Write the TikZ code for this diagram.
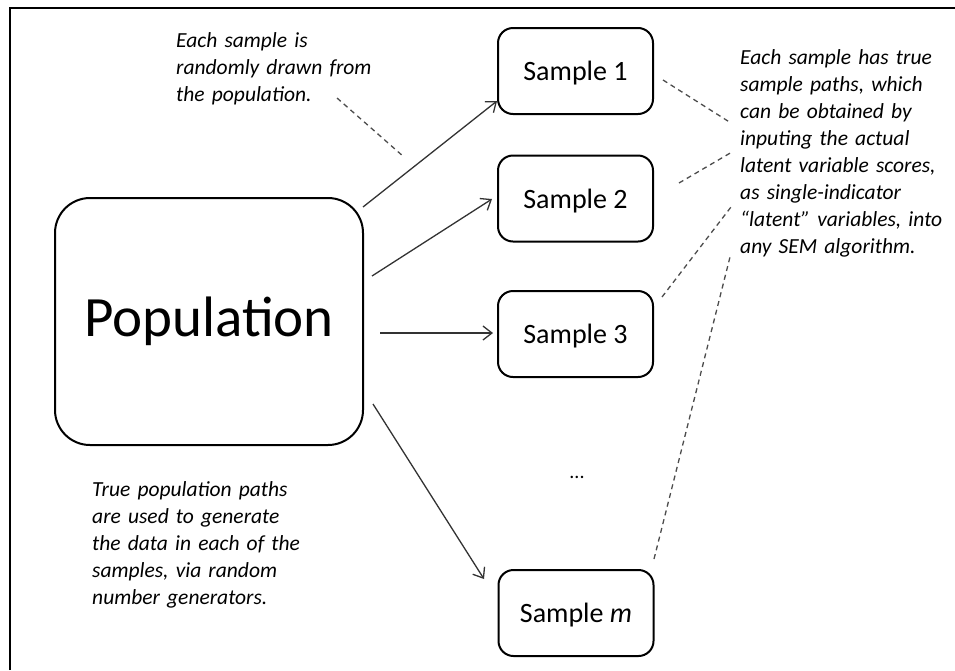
\documentclass[tikz,border=0pt]{standalone}
\usepackage{fontspec}
\setmainfont{Carlito}
\usetikzlibrary{arrows.meta}
\begin{document}
\begin{tikzpicture}[x=1pt,y=-1pt,
  box/.style={draw=black, line width=2pt, inner sep=0pt, text=black},
  samplebox/.style={box, rounded corners=15pt, minimum width=155pt, minimum height=86pt, text depth=0pt, font=\fontsize{28}{34}\selectfont},
  note/.style={font=\fontsize{21.5}{27}\selectfont\itshape, align=left, anchor=base west, inner sep=0pt, text width=260pt},
  arr/.style={line width=1.3pt, draw=black!80, -{Straight Barb[length=9pt,width=14pt,line width=1.3pt]}},
  dashline/.style={line width=1.3pt, draw=black!70, dash pattern=on 5pt off 4pt},
]
\useasboundingbox (0,0) rectangle (955,670);
\coordinate (fbl) at (10,670);
\coordinate (ftl) at (10,8);
\coordinate (ftr) at (955,8);
\draw[line width=2pt] (fbl) -- (ftl) -- (ftr);

\node[box, rounded corners=35pt, minimum width=308pt, minimum height=247pt, font=\fontsize{57}{66}\selectfont] (pop) at (209,321.5) {Population};

\node[samplebox] (s1) at (575.5,71) {Sample 1};
\node[samplebox] (s2) at (575.5,198.5) {Sample 2};
\node[samplebox] (s3) at (575.5,334) {Sample 3};
\node[samplebox] (sm) at (576,613) {Sample \textit{m}};
\node[font=\fontsize{20}{24}\selectfont, inner sep=0pt] (dots) at (577,477) {...};

\node[note] (n1) at (176,47) {Each sample is\\randomly drawn from\\the population.};
\node[note] (n2) at (740,64) {Each sample has true\\sample paths, which\\can be obtained by\\inputing the actual\\latent variable scores,\\as single-indicator\\“latent” variables, into\\any SEM algorithm.};
\node[note] (n3) at (92,496) {True population paths\\are used to generate\\the data in each of the\\samples, via random\\number generators.};

% arrows
\coordinate (a1s) at (363,207);  \coordinate (a1e) at (497,101);
\coordinate (a2s) at (372,276);  \coordinate (a2e) at (492,199);
\coordinate (a3s) at (380,333);  \coordinate (a3e) at (493,333);
\coordinate (a4s) at (373,404);  \coordinate (a4e) at (484,579);
\draw[arr] (a1s) -- (a1e);
\draw[arr] (a2s) -- (a2e);
\draw[arr] (a3s) -- (a3e);
\draw[arr] (a4s) -- (a4e);

% dashed leaders
\coordinate (d0s) at (337,98);  \coordinate (d0e) at (404,157);
\coordinate (d1s) at (663,80);  \coordinate (d1e) at (731,123);
\coordinate (d2s) at (679,183); \coordinate (d2e) at (732,152);
\coordinate (d3s) at (662,297); \coordinate (d3e) at (731,207);
\coordinate (d4s) at (654,559); \coordinate (d4e) at (730,257);
\draw[dashline] (d0s) -- (d0e);
\draw[dashline] (d1s) -- (d1e);
\draw[dashline] (d2s) -- (d2e);
\draw[dashline] (d3s) -- (d3e);
\draw[dashline] (d4s) -- (d4e);
\end{tikzpicture}
\end{document}
